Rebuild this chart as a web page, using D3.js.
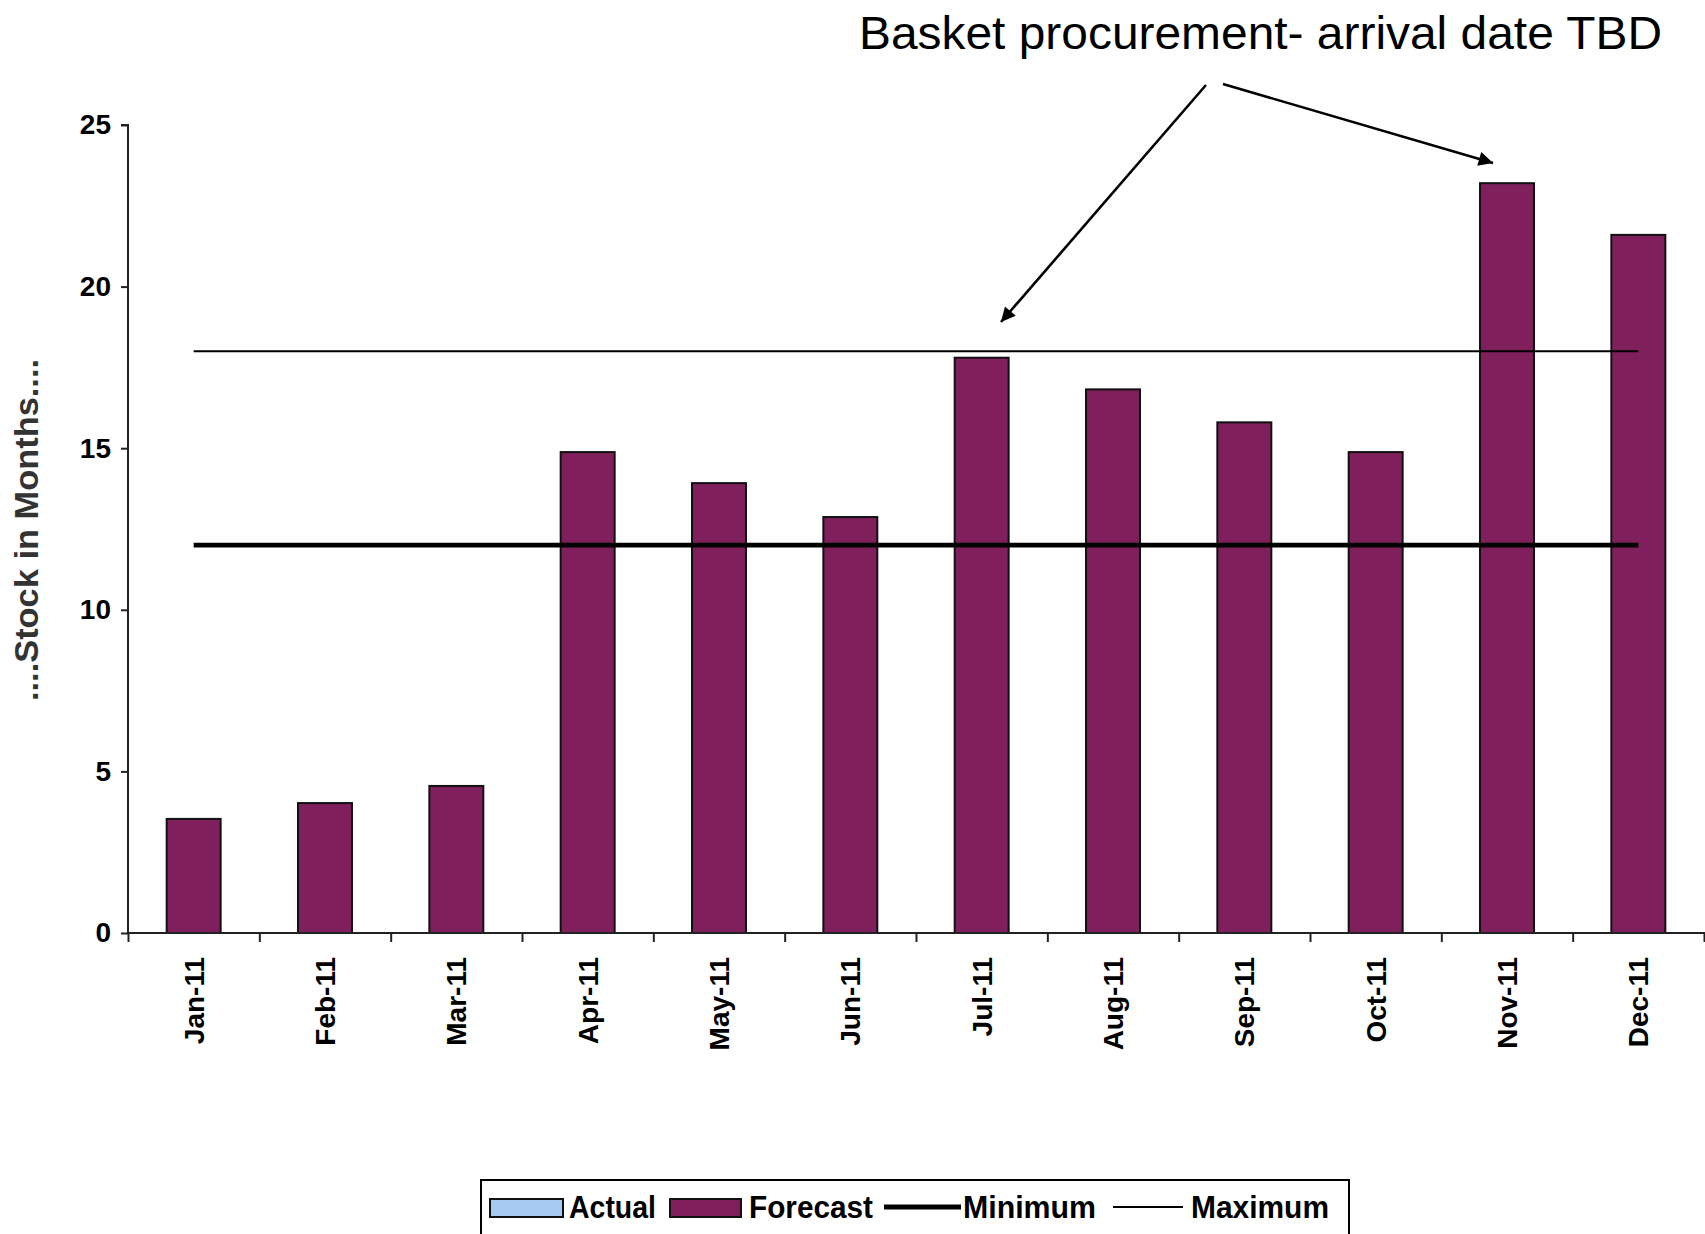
<!DOCTYPE html>
<html>
<head>
<meta charset="utf-8">
<script src="https://cdn.jsdelivr.net/npm/d3@7"></script>
<style>
  html, body { margin: 0; padding: 0; background: #fff; }
  svg { display: block; }
  text { font-family: Arial, "Liberation Sans", Helvetica, sans-serif; }
</style>
</head>
<body>
<svg id="chart" width="1705" height="1234"></svg>
<script>
// ---- data ----
const months = ["Jan-11","Feb-11","Mar-11","Apr-11","May-11","Jun-11","Jul-11","Aug-11","Sep-11","Oct-11","Nov-11","Dec-11"];
const forecast = [3.53, 4.02, 4.55, 14.88, 13.92, 12.87, 17.8, 16.82, 15.8, 14.88, 23.2, 21.6];
const actual = [null, null, null, null, null, null, null, null, null, null, null, null];
const minimum = [12, 12, 12, 12, 12, 12, 12, 12, 12, 12, 12, 12];
const maximum = [18, 18, 18, 18, 18, 18, 18, 18, 18, 18, 18, 18];
const yTicks = [0, 5, 10, 15, 20, 25];
const yTitle = "....Stock in Months....";
const annotation = "Basket procurement- arrival date TBD";
const legendItems = ["Actual", "Forecast", "Minimum", "Maximum"];

const svg = d3.select("#chart");
const mLeft = 128, mRight = 1704, mTop = 125, mBottom = 933;

const x = d3.scaleBand().domain(months).range([mLeft, mRight]).paddingInner(0.589).paddingOuter(0.2945);
const xEdge = d3.scaleLinear().domain([0, months.length]).range([mLeft, mRight]);
const y = d3.scaleLinear().domain([0, 25]).range([mBottom, mTop]);

const barColor = "#7f1f5b";
const actualColor = "#a6caf0";

// arrow marker
const defs = svg.append("defs");
defs.append("marker").attr("id", "arrow").attr("viewBox", "0 0 10 10")
  .attr("refX", 10).attr("refY", 5).attr("markerWidth", 6.5).attr("markerHeight", 5.5)
  .attr("markerUnits", "strokeWidth").attr("orient", "auto")
  .append("path").attr("d", "M0,0 L10,5 L0,10 z").attr("fill", "#000");

// bars (forecast)
svg.append("g").selectAll("rect").data(forecast).join("rect")
  .attr("x", (d, i) => x(months[i]))
  .attr("y", d => y(d))
  .attr("width", x.bandwidth())
  .attr("height", d => y(0) - y(d))
  .attr("fill", barColor)
  .attr("stroke", "#111")
  .attr("stroke-width", 2);

// min / max lines
const line = d3.line().x((d, i) => x(months[i]) + x.bandwidth() / 2).y(d => y(d));
svg.append("path").datum(maximum).attr("d", line).attr("fill", "none").attr("stroke", "#000").attr("stroke-width", 1.8);
svg.append("path").datum(minimum).attr("d", line).attr("fill", "none").attr("stroke", "#000").attr("stroke-width", 4.8);

// y axis
const yAxis = svg.append("g").attr("transform", `translate(${mLeft},0)`)
  .call(d3.axisLeft(y).tickValues(yTicks).tickSize(7).tickPadding(10).tickFormat(d3.format("d")));
yAxis.select(".domain").attr("stroke", "#222").attr("stroke-width", 2).attr("d", `M-7,${mTop}H0V${mBottom}`);
yAxis.selectAll(".tick line").attr("stroke", "#222").attr("stroke-width", 2);
yAxis.selectAll(".tick text").attr("font-size", 28).attr("font-weight", "bold").attr("fill", "#000")
  .attr("font-family", "Arial, 'Liberation Sans', sans-serif");

// x axis: boundary ticks
const xAxisTicks = svg.append("g").attr("transform", `translate(0,${mBottom})`)
  .call(d3.axisBottom(xEdge).tickValues(d3.range(0, months.length + 1)).tickSize(9).tickFormat(""));
xAxisTicks.select(".domain").attr("stroke", "#222").attr("stroke-width", 2).attr("d", `M${mLeft},0H1705`);
xAxisTicks.selectAll(".tick line").attr("stroke", "#222").attr("stroke-width", 2);

// x labels rotated
svg.append("g").selectAll("text").data(months).join("text")
  .attr("transform", d => `translate(${x(d) + x.bandwidth() / 2 + 10},957) rotate(-90)`)
  .attr("text-anchor", "end")
  .attr("font-size", 28)
  .attr("font-weight", "bold")
  .attr("fill", "#000")
  .text(d => d);

// y title
svg.append("text")
  .attr("transform", "translate(38,530) rotate(-90)")
  .attr("text-anchor", "middle")
  .attr("font-size", 34)
  .attr("font-weight", "bold")
  .attr("fill", "#333")
  .attr("textLength", 342).attr("lengthAdjust", "spacingAndGlyphs")
  .text(yTitle);

// annotation
svg.append("text")
  .attr("x", 859).attr("y", 49)
  .attr("font-size", 46)
  .attr("textLength", 803).attr("lengthAdjust", "spacingAndGlyphs")
  .attr("fill", "#000")
  .text(annotation);

svg.append("line").attr("x1", 1206).attr("y1", 85).attr("x2", 1001).attr("y2", 322)
  .attr("stroke", "#000").attr("stroke-width", 2.6).attr("marker-end", "url(#arrow)");
svg.append("line").attr("x1", 1223).attr("y1", 84).attr("x2", 1493).attr("y2", 163)
  .attr("stroke", "#000").attr("stroke-width", 2.6).attr("marker-end", "url(#arrow)");

// legend
const lg = svg.append("g");
lg.append("rect").attr("x", 481).attr("y", 1180).attr("width", 868).attr("height", 80)
  .attr("fill", "#fff").attr("stroke", "#000").attr("stroke-width", 2);
const legendSpec = [
  { name: legendItems[0], type: "box", fill: actualColor, sx: 490, sw: 73, tx: 569, tw: 87 },
  { name: legendItems[1], type: "box", fill: barColor, sx: 670, sw: 71, tx: 749, tw: 124 },
  { name: legendItems[2], type: "line", w: 4.8, sx: 884, sw: 77, tx: 963, tw: 133 },
  { name: legendItems[3], type: "line", w: 1.8, sx: 1113, sw: 70, tx: 1191, tw: 138 }
];
legendSpec.forEach(s => {
  if (s.type === "box") {
    lg.append("rect").attr("x", s.sx).attr("y", 1199).attr("width", s.sw).attr("height", 18)
      .attr("fill", s.fill).attr("stroke", "#111").attr("stroke-width", 2);
  } else {
    lg.append("line").attr("x1", s.sx).attr("x2", s.sx + s.sw).attr("y1", 1207).attr("y2", 1207)
      .attr("stroke", "#000").attr("stroke-width", s.w);
  }
  lg.append("text").attr("x", s.tx).attr("y", 1218)
    .attr("font-size", 31).attr("font-weight", "bold").attr("fill", "#000")
    .attr("textLength", s.tw).attr("lengthAdjust", "spacingAndGlyphs")
    .text(s.name);
});
</script>
</body>
</html>
